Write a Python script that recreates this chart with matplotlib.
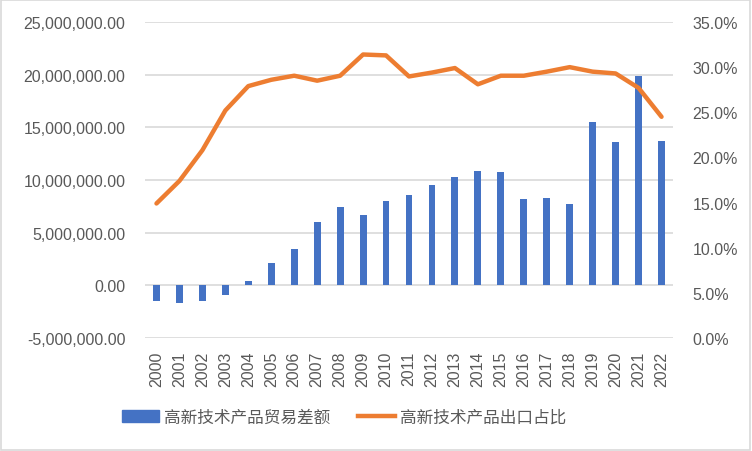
import matplotlib.pyplot as plt
import numpy as np
from matplotlib.patches import Rectangle
from matplotlib.lines import Line2D
from matplotlib.ticker import FuncFormatter

plt.rcParams['font.family'] = ['Noto Sans CJK SC', 'DejaVu Sans']

years = [str(y) for y in range(2000, 2023)]
trade_balance = [-1.49e6, -1.68e6, -1.49e6, -0.92e6, 0.38e6, 2.09e6, 3.44e6, 5.98e6,
                 7.40e6, 6.64e6, 7.97e6, 8.54e6, 9.49e6, 10.25e6, 10.82e6, 10.72e6,
                 8.16e6, 8.25e6, 7.68e6, 15.46e6, 13.57e6, 19.83e6, 13.66e6]
export_share = [14.9, 17.4, 20.8, 25.2, 27.9, 28.6, 29.05, 28.5, 29.05, 31.4, 31.3, 28.97,
                29.4, 29.9, 28.1, 29.05, 29.05, 29.5, 30.0, 29.5, 29.3, 27.7, 24.5]
bar_label = "高新技术产品贸易差额"
line_label = "高新技术产品出口占比"

BLUE = "#4472C4"
ORANGE = "#ED7D31"
GRID = "#D9D9D9"
TXT = "#595959"
TICK_FONT = ["Liberation Sans", "DejaVu Sans"]

fig = plt.figure(figsize=(7.52, 4.52), dpi=100)
ax = fig.add_axes([145 / 752, 1 - 339 / 452, (673 - 145) / 752, (339 - 23) / 452])
x = np.arange(len(years))

ax.bar(x, trade_balance, width=0.3, color=BLUE, zorder=3)
ax.set_ylim(-5e6, 25e6)
ax.set_yticks(np.arange(-5e6, 25e6 + 1, 5e6))
ax.yaxis.set_major_formatter(FuncFormatter(lambda v, p: f"{v:,.2f}"))
ax.grid(axis="y", color=GRID, lw=1.2, zorder=0)
ax.set_xlim(-0.5, len(years) - 0.5)
ax.set_xticks(x)
ax.set_xticklabels(years, rotation=90)
for s in ax.spines.values():
    s.set_visible(False)
ax.tick_params(length=0, colors=TXT, labelsize=11.5)
ax.tick_params(axis="y", pad=14)
ax.tick_params(axis="x", pad=9)
for lab in ax.get_xticklabels() + ax.get_yticklabels():
    lab.set_family(TICK_FONT)

ax2 = ax.twinx()
ax2.plot(x, export_share, color=ORANGE, lw=3.2, solid_capstyle="round", zorder=4)
ax2.set_ylim(0, 35)
ax2.set_yticks(np.arange(0, 36, 5))
ax2.yaxis.set_major_formatter(FuncFormatter(lambda v, p: f"{v:.1f}%"))
for s in ax2.spines.values():
    s.set_visible(False)
ax2.tick_params(length=0, colors=TXT, labelsize=11.5, pad=14)
for lab in ax2.get_yticklabels():
    lab.set_family(TICK_FONT)

handles = [Rectangle((0, 0), 1, 1, color=BLUE),
           Line2D([0], [0], color=ORANGE, lw=3.2)]
fig.legend(handles, [bar_label, line_label], loc="center", bbox_to_anchor=(344 / 752, 1 - 418 / 452),
           ncol=2, frameon=False, fontsize=12, labelcolor=TXT, handlelength=2.2,
           columnspacing=1.7, handletextpad=0.3)

fig.patches.append(Rectangle((0.001, 0.002), 0.997, 0.996, transform=fig.transFigure,
                             fill=False, edgecolor=GRID, lw=1.2))

fig.savefig("out.png", dpi=100)
